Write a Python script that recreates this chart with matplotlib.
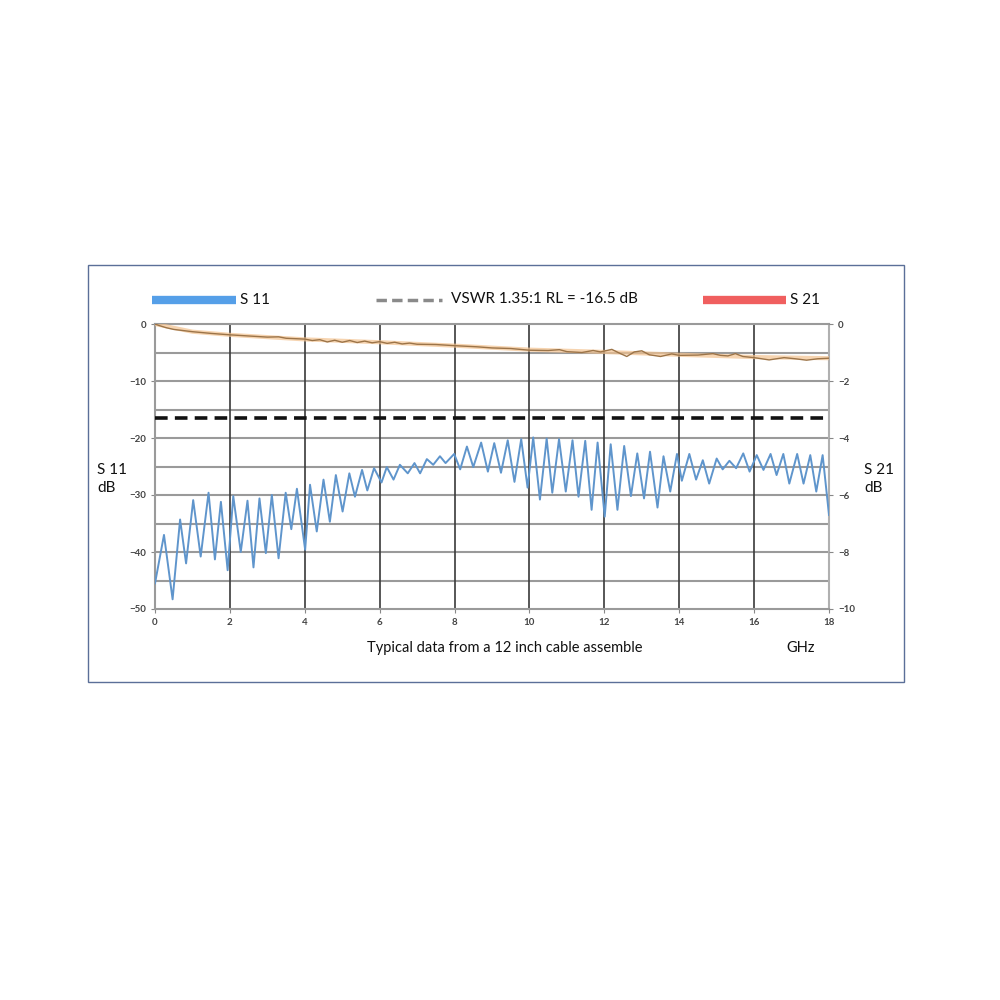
import matplotlib
matplotlib.use("Agg")
import matplotlib.pyplot as plt
from matplotlib.patches import Rectangle
from matplotlib.lines import Line2D

# S11 (GHz, dB)
s11_freq = [0.0, 0.24, 0.47, 0.67, 0.83, 1.02, 1.22, 1.43, 1.60, 1.76, 1.94, 2.09, 2.29,
            2.47, 2.63, 2.79, 2.96, 3.12, 3.30, 3.49, 3.64, 3.79, 4.01, 4.14, 4.32, 4.50,
            4.67, 4.83, 5.01, 5.19, 5.34, 5.53, 5.67, 5.85, 6.05, 6.19, 6.37, 6.54, 6.75,
            6.93, 7.08, 7.26, 7.43, 7.61, 7.76, 7.99, 8.15, 8.33, 8.50, 8.71, 8.89, 9.06,
            9.24, 9.42, 9.60, 9.78, 9.95, 10.10, 10.28, 10.46, 10.61, 10.79, 10.97, 11.15,
            11.31, 11.49, 11.66, 11.82, 12.01, 12.17, 12.35, 12.53, 12.71, 12.88, 13.06,
            13.22, 13.42, 13.58, 13.76, 13.94, 14.07, 14.27, 14.45, 14.63, 14.80, 15.00,
            15.16, 15.34, 15.52, 15.71, 15.88, 16.07, 16.25, 16.44, 16.60, 16.78, 16.94,
            17.15, 17.32, 17.50, 17.66, 17.83, 18.0]
s11_db = [-45.5, -37.0, -48.3, -34.3, -42.0, -30.9, -40.8, -29.6, -41.3, -31.2, -43.2, -30.2,
          -40.0, -31.0, -42.7, -30.6, -40.2, -30.0, -41.1, -29.6, -36.0, -28.9, -39.6, -28.2,
          -36.4, -27.3, -34.7, -26.5, -32.9, -26.2, -30.3, -25.6, -29.2, -25.3, -27.8, -25.1,
          -27.3, -24.7, -26.2, -24.4, -26.2, -23.7, -24.7, -23.2, -24.4, -22.8, -25.5, -21.5,
          -25.1, -20.8, -25.9, -20.9, -26.1, -20.4, -27.7, -20.2, -28.7, -19.9, -30.8, -20.1,
          -29.6, -20.2, -29.4, -20.4, -30.3, -20.5, -32.6, -20.8, -33.8, -21.1, -32.6, -21.4,
          -30.2, -22.7, -30.6, -22.4, -32.2, -23.2, -29.4, -22.8, -27.5, -22.8, -27.3, -23.9,
          -28.0, -23.6, -25.5, -24.0, -25.3, -22.7, -25.9, -23.0, -25.6, -22.8, -26.5, -22.8,
          -28.0, -22.8, -28.0, -23.0, -29.4, -23.0, -33.5]

# S21 on the right axis (GHz, dB)
s21_freq = [0.0, 0.1, 0.3, 0.5, 1.0, 1.5, 2.0, 2.5, 3.0, 3.3, 3.5, 4.0, 4.2, 4.4, 4.6, 4.8,
            5.0, 5.2, 5.4, 5.6, 5.8, 6.0, 6.2, 6.4, 6.6, 6.8, 7.0, 7.5, 8.0, 8.3, 8.6, 9.0,
            9.5, 10.0, 10.5, 10.8, 11.0, 11.4, 11.7, 11.9, 12.2, 12.4, 12.6, 12.8, 13.0,
            13.2, 13.5, 13.8, 14.0, 14.5, 14.9, 15.1, 15.3, 15.5, 15.7, 16.0, 16.4, 16.8,
            17.1, 17.4, 17.7, 18.0]
s21_db = [0.0, -0.05, -0.13, -0.19, -0.27, -0.33, -0.38, -0.42, -0.46, -0.45, -0.50, -0.53,
          -0.58, -0.55, -0.63, -0.57, -0.64, -0.58, -0.65, -0.60, -0.66, -0.62, -0.68, -0.64,
          -0.70, -0.67, -0.71, -0.72, -0.76, -0.78, -0.80, -0.84, -0.86, -0.92, -0.93, -0.90,
          -0.97, -1.00, -0.93, -0.98, -0.89, -1.02, -1.14, -0.98, -0.94, -1.08, -1.14, -1.05,
          -1.10, -1.09, -1.04, -1.10, -1.12, -1.04, -1.14, -1.18, -1.26, -1.18, -1.22, -1.27,
          -1.22, -1.20]
s21_trend_freq = [0.0, 1.0, 2.0, 4.0, 6.0, 8.0, 10.0, 12.0, 14.0, 16.0, 18.0]
s21_trend_db = [0.0, -0.27, -0.38, -0.54, -0.64, -0.76, -0.90, -0.98, -1.08, -1.16, -1.20]

vswr_rl = -16.5

freq_ticks = [0, 2, 4, 6, 8, 10, 12, 14, 16, 18]
s11_ticks = [0, -10, -20, -30, -40, -50]
s21_ticks = [0, -2, -4, -6, -8, -10]

plt.rcParams['font.family'] = ['Lato', 'DejaVu Sans']

fig = plt.figure(figsize=(10, 10), dpi=100)
fig.patches.append(Rectangle((0.088, 0.318), 0.816, 0.417, transform=fig.transFigure,
                             fill=False, edgecolor='#5b6f98', linewidth=1.0))

ax = fig.add_axes([0.155, 0.391, 0.674, 0.285])
ax.set_xlim(0, 18)
ax.set_ylim(-50, 0)

# grid
for y in range(-45, 0, 5):
    ax.axhline(y, color='#9a9a9a', linewidth=1.5, zorder=1)
for x in freq_ticks[1:-1]:
    ax.axvline(x, color='#3a3a3a', linewidth=1.2, zorder=1)
for sp in ax.spines.values():
    sp.set_color('#9a9a9a')
    sp.set_linewidth(1.5)
ax.spines['right'].set_color('#b0b0b0')

ax.axhline(vswr_rl, color='#111111', linewidth=2.6, dashes=(3.5, 2.0), zorder=3)
ax.plot(s11_freq, s11_db, color='#5f95cc', linewidth=1.4, zorder=4)

tick_kw = dict(labelsize=7, labelcolor='#444444', color='#888888', length=3)
ax.set_xticks(freq_ticks)
ax.set_yticks(s11_ticks)
ax.tick_params(axis='both', **tick_kw)
for lab in ax.get_xticklabels() + ax.get_yticklabels():
    lab.set_fontweight('bold')

ax2 = ax.twinx()
ax2.set_ylim(-10, 0)
ax2.set_yticks(s21_ticks)
ax2.tick_params(axis='y', **tick_kw)
for lab in ax2.get_yticklabels():
    lab.set_fontweight('bold')
for sp in ax2.spines.values():
    sp.set_visible(False)
ax2.plot(s21_trend_freq, s21_trend_db, color='#f3c28f', linewidth=3, alpha=0.7, zorder=2)
ax2.plot(s21_freq, s21_db, color='#9c7448', linewidth=1.0, zorder=3)

# legend row
fig.add_artist(Line2D([0.152, 0.236], [0.700, 0.700], color='#559fe8', linewidth=6,
                      solid_capstyle='butt'))
fig.text(0.240, 0.700, 'S 11', fontsize=11, va='center', color='#111111')
fig.add_artist(Line2D([0.376, 0.442], [0.700, 0.700], color='#8a8a8a', linewidth=2.5,
                      dashes=(3, 1.5)))
fig.text(0.451, 0.701, 'VSWR 1.35:1 RL = -16.5 dB', fontsize=11, va='center', color='#111111')
fig.add_artist(Line2D([0.703, 0.786], [0.700, 0.700], color='#f05f5f', linewidth=6,
                      solid_capstyle='butt'))
fig.text(0.790, 0.700, 'S 21', fontsize=11, va='center', color='#111111')

fig.text(0.097, 0.521, 'S 11\ndB', fontsize=11, va='center', ha='left', color='#111111',
         linespacing=1.4)
fig.text(0.864, 0.521, 'S 21\ndB', fontsize=11, va='center', ha='left', color='#111111',
         linespacing=1.4)
fig.text(0.505, 0.352, 'Typical data from a 12 inch cable assemble', fontsize=10.5,
         ha='center', va='center', color='#111111')
fig.text(0.786, 0.352, 'GHz', fontsize=10.5, ha='left', va='center', color='#111111')

fig.savefig('out.png', dpi=100, facecolor='white')
